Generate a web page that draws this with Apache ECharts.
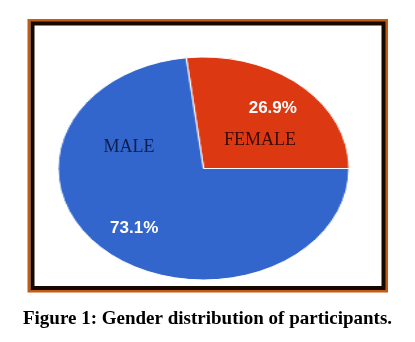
<!DOCTYPE html>
<html>
<head>
<meta charset="utf-8">
<script src="https://cdn.jsdelivr.net/npm/echarts@6/dist/echarts.min.js"></script>
<style>
  html, body { margin: 0; padding: 0; background: #fff; overflow: hidden; }
  #wrap { position: relative; width: 415px; height: 342px; }
  #pie, #main { position: absolute; left: 0; top: 0; width: 415px; height: 342px; }
  /* the source figure is a stretched pie, so the pie layer is scaled sideways */
  #pie { transform-origin: 203.5px 168.5px; transform: scaleX(1.305); }
</style>
</head>
<body>
<div id="wrap">
  <div id="pie"></div>
  <div id="main"></div>
</div>
<script>
const genders = ["FEMALE", "MALE"];
const shares = [26.9, 73.1];
const caption = "Figure 1: Gender distribution of participants.";

const STRETCH = 1.305;
const CX = 203.5, CY = 168.5;
const startAngle = shares[0] * 3.6;
const pieData = genders.map((g, i) => ({ name: g, value: shares[i] }));

const pie = echarts.init(document.getElementById("pie"));
pie.setOption({
  animation: false,
  series: [{
    type: "pie",
    center: [CX, CY],
    radius: 111.5,
    startAngle: startAngle,
    clockwise: true,
    silent: true,
    label: { show: false },
    labelLine: { show: false },
    itemStyle: { borderColor: "#ffffff", borderWidth: 1 },
    color: ["#dc3912", "#3366cc"],
    data: pieData,
  }],
});

const main = echarts.init(document.getElementById("main"));
main.setOption({
  animation: false,
  title: {
    text: caption,
    left: "center",
    top: 305,
    textStyle: {
      fontFamily: "Liberation Serif",
      fontWeight: "bold",
      fontSize: 19,
      color: "#000",
    },
  },
  graphic: [
    { type: "rect", shape: { x: 29, y: 20.5, width: 357.5, height: 270.5 },
      style: { fill: null, stroke: "#c55a11", lineWidth: 3 } },
    { type: "rect", shape: { x: 32.5, y: 23.5, width: 351, height: 264.5 },
      style: { fill: null, stroke: "#140800", lineWidth: 4 } },
    { type: "text", x: 260, y: 140,
      style: { text: genders[0], fill: "#3a0a02", font: "18px 'Liberation Serif'",
               align: "center", verticalAlign: "middle" } },
    { type: "text", x: 129, y: 147,
      style: { text: genders[1], fill: "#0f1d4e", font: "18px 'Liberation Serif'",
               align: "center", verticalAlign: "middle" } },
  ],
  series: [{
    type: "pie",
    center: [CX, CY],
    radius: 154,
    startAngle: startAngle,
    clockwise: true,
    silent: true,
    avoidLabelOverlap: false,
    itemStyle: { color: "rgba(0,0,0,0)" },
    label: {
      show: true,
      position: "inside",
      formatter: "{c}%",
      color: "#ffffff",
      fontFamily: "Liberation Sans",
      fontWeight: "bold",
      fontSize: 17,
    },
    labelLine: { show: false },
    // push labels sideways so they follow the stretched pie
    labelLayout: (p) => {
      const mid = p.labelRect.x + p.labelRect.width / 2;
      return { dx: (mid - CX) * (STRETCH - 1) };
    },
    data: pieData,
  }],
});
</script>
</body>
</html>
